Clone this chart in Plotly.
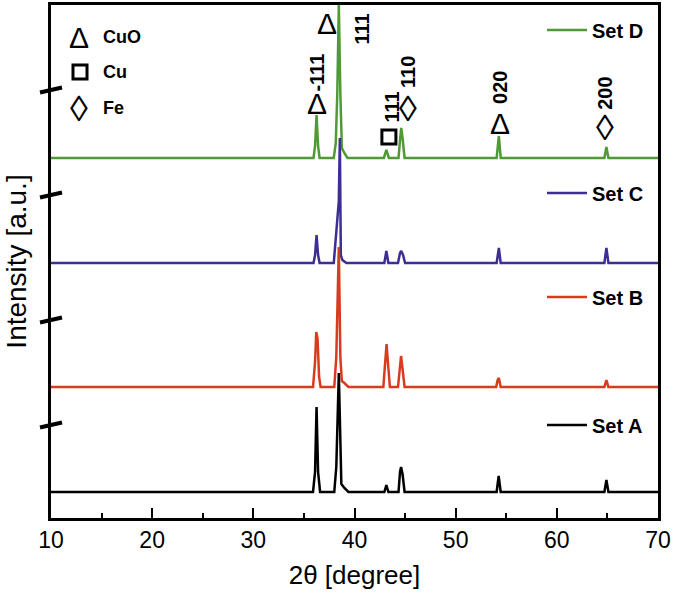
import plotly.graph_objects as go

# ---- data (intensity in arbitrary units) ----
set_names = ["Set A", "Set B", "Set C", "Set D"]
set_colors = ["#000000", "#d83c1e", "#3d2e94", "#4f9a35"]
set_offsets = [26, 131, 255, 360]

setA_x = [10, 35.9, 36.1, 36.25, 36.4, 36.6, 38.0, 38.2, 38.45, 38.6, 38.7, 39.0, 39.4,
          42.95, 43.15, 43.35, 44.35, 44.5, 44.6, 44.75, 44.95, 54.05, 54.25, 54.45,
          64.7, 64.9, 65.1, 70]
setA_y = [0, 0, 20, 85, 20, 0, 0, 25, 119, 40, 8, 4, 0,
          0, 7, 0, 0, 20, 25, 18, 0, 0, 16, 0,
          0, 12, 0, 0]

setB_x = [10, 35.9, 36.1, 36.22, 36.35, 36.5, 36.65, 38.0, 38.2, 38.45, 38.6, 38.75, 39.0, 39.4,
          42.85, 43.05, 43.17, 43.3, 43.5, 44.3, 44.5, 44.6, 44.75, 44.95,
          54.0, 54.15, 54.27, 54.45, 64.7, 64.9, 65.1, 70]
setB_y = [0, 0, 25, 55, 48, 10, 0, 0, 30, 140, 30, 6, 4, 0,
          0, 25, 43, 25, 0, 0, 22, 31, 18, 0,
          0, 7, 9, 0, 0, 7, 0, 0]

setC_x = [10, 35.95, 36.1, 36.25, 36.4, 36.55, 37.95, 38.05, 38.45, 38.55, 38.65, 38.8, 39.2,
          42.95, 43.15, 43.35, 44.3, 44.5, 44.62, 44.8, 45.0, 54.05, 54.27, 54.45,
          64.7, 64.9, 65.1, 70]
setC_y = [0, 0, 8, 28, 8, 0, 0, 12, 62, 125, 8, 3, 0,
          0, 12, 0, 0, 10, 12, 8, 0, 0, 15, 0,
          0, 15, 0, 0]

setD_x = [10, 35.95, 36.1, 36.25, 36.4, 36.55, 37.95, 38.15, 38.3, 38.45, 38.6, 38.75, 39.0, 39.3,
          42.9, 43.15, 43.4, 44.35, 44.5, 44.62, 44.75, 44.95, 54.05, 54.27, 54.45,
          64.7, 64.9, 65.1, 70]
setD_y = [0, 0, 12, 43, 12, 0, 0, 15, 65, 153, 65, 10, 5, 0,
          0, 8, 0, 0, 18, 30, 20, 0, 0, 22, 0,
          0, 11, 0, 0]

# peak markers on Set D: symbol, symbol position, hkl label, label position
peak_symbols = ["Δ", "Δ", "□", "◊", "Δ", "◊"]
peak_sym_x = [36.25, 37.27, 43.4, 45.28, 54.37, 64.74]
peak_sym_y = [415, 495, 381, 410, 395, 391]
peak_hkl = ["-111", "111", "111", "110", "020", "200"]
peak_hkl_x = [36.25, 40.7, 43.75, 45.28, 54.37, 64.74]
peak_hkl_y = [445, 489, 411, 446, 431, 425]

phase_symbols = ["Δ", "□", "◊"]
phase_names = ["CuO", "Cu", "Fe"]

x_ticks = [10, 20, 30, 40, 50, 60, 70]

FONT = "Liberation Sans, Arial, sans-serif"

top_px, bottom_px, left_px, right_px = 5, 518, 51, 658
H = bottom_px - top_px
W = right_px - left_px

fig = go.Figure()
series = [(setA_x, setA_y), (setB_x, setB_y), (setC_x, setC_y), (setD_x, setD_y)]
legend_ids = ["legend4", "legend3", "legend2", "legend"]
# draw D first so that A ends on top
for i in [3, 2, 1, 0]:
    xs, ys = series[i]
    fig.add_trace(go.Scatter(
        x=xs, y=[v + set_offsets[i] for v in ys], mode="lines",
        line=dict(color=set_colors[i], width=2.5),
        name="<b>" + set_names[i] + "</b>", legend=legend_ids[i],
    ))

# legends placed next to each trace
legend_y_px = [425, 297, 193, 30]
leg_common = dict(xanchor="left", yanchor="middle", bgcolor="rgba(0,0,0,0)",
                  font=dict(family=FONT, size=20, color="black"), itemwidth=40,
                  tracegroupgap=0)
legend_layout = {}
for i, lid in enumerate(legend_ids):
    legend_layout[lid] = dict(x=(542 - left_px) / W, y=(bottom_px - legend_y_px[i]) / H, **leg_common)

annotations = []
sq_x, sq_y = [], []
for s, sx, sy in zip(peak_symbols, peak_sym_x, peak_sym_y):
    if s == "□":
        sq_x.append(sx)
        sq_y.append(sy)
        continue
    size = 36 if s == "◊" else 30
    annotations.append(dict(x=sx, y=sy, xref="x", yref="y", text=s, showarrow=False,
                            font=dict(family=FONT, size=size, color="black")))
for t, tx, ty in zip(peak_hkl, peak_hkl_x, peak_hkl_y):
    annotations.append(dict(x=tx, y=ty, xref="x", yref="y", text="<b>" + t + "</b>",
                            textangle=-90, showarrow=False,
                            font=dict(family=FONT, size=20, color="black")))

phase_y_px = [37, 72, 108]
sym_px = 79
for s, n, py in zip(phase_symbols, phase_names, phase_y_px):
    yp = (bottom_px - py) / H
    if s == "□":
        # place the open-square key symbol in data units derived from its paper position
        sq_x.append(10 + (sym_px + 1 - left_px) / W * 60)
        sq_y.append(bottom_px - py)
    else:
        size = 36 if s == "◊" else 30
        annotations.append(dict(x=(sym_px - left_px) / W, y=yp, xref="paper", yref="paper", text=s,
                                showarrow=False, xanchor="center", yanchor="middle",
                                font=dict(family=FONT, size=size, color="black")))
    annotations.append(dict(x=(101 - left_px) / W, y=yp, xref="paper", yref="paper",
                            text="<b>" + n + "</b>", showarrow=False, xanchor="left",
                            yanchor="middle", font=dict(family=FONT, size=18, color="black")))

fig.add_trace(go.Scatter(
    x=sq_x, y=sq_y, mode="markers", showlegend=False, hoverinfo="skip",
    marker=dict(symbol="square-open", size=14, color="black", line=dict(width=3, color="black")),
))

# axis break marks on the y axis
shapes = []
for py in [90, 195, 320, 425]:
    yc = (bottom_px - py) / H
    shapes.append(dict(type="line", xref="paper", yref="paper",
                       x0=(40 - left_px) / W, x1=(62 - left_px) / W,
                       y0=yc - 2.5 / H, y1=yc + 2.5 / H,
                       line=dict(color="black", width=4)))

fig.update_layout(
    width=675, height=594,
    margin=dict(l=left_px, r=675 - right_px, t=top_px, b=594 - bottom_px),
    paper_bgcolor="white", plot_bgcolor="white",
    font=dict(family=FONT, color="black"),
    annotations=annotations, shapes=shapes,
    **legend_layout,
)
fig.update_xaxes(
    range=[10, 70], tickvals=x_ticks, ticks="inside", ticklen=10, tickwidth=2,
    tickcolor="black", showline=True, linewidth=2.5, linecolor="black", mirror=True,
    showgrid=False, zeroline=False, tickfont=dict(family=FONT, size=23), automargin=False,
    minor=dict(dtick=5, tick0=10, ticks="inside", ticklen=5, tickwidth=2, tickcolor="black", showgrid=False),
    title=dict(text="2θ [degree]", font=dict(family=FONT, size=26), standoff=14),
)
fig.update_yaxes(
    range=[0, H], showticklabels=False, ticks="", showline=True, linewidth=2.5,
    linecolor="black", mirror=True, showgrid=False, zeroline=False, automargin=False,
    title=dict(text="Intensity [a.u.]", font=dict(family=FONT, size=28), standoff=14),
)

fig.write_html("out.html", post_script="document.body.style.margin='0px';",
               config={"displayModeBar": False})
